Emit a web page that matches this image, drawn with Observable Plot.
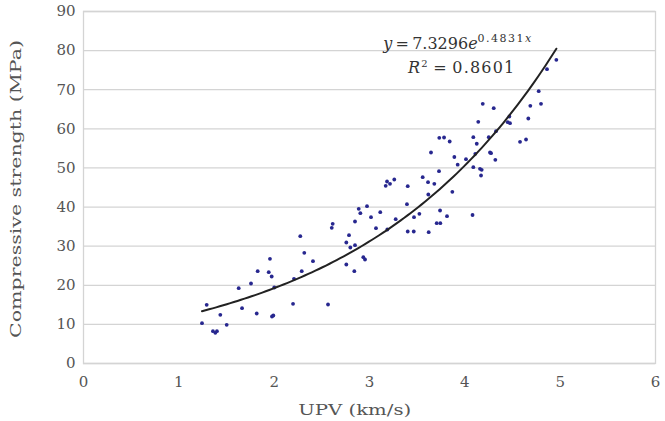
<!DOCTYPE html>
<html>
<head>
<meta charset="utf-8">
<script src="https://cdn.jsdelivr.net/npm/d3@7"></script>
<script src="https://cdn.jsdelivr.net/npm/@observablehq/plot@0.6"></script>
<style>
  html, body { margin: 0; padding: 0; background: #fff; }
  #chart { width: 665px; height: 421px; }
</style>
</head>
<body>
<div id="chart"></div>
<script>
// UPV (km/s)
const upv = [1.243,1.292,1.358,1.383,1.400,1.435,1.502,1.628,1.663,1.757,1.817,1.827,1.943,1.974,1.956,2.001,1.991,1.977,
  2.198,2.208,2.289,2.316,2.274,2.407,2.565,2.614,2.604,2.757,2.785,2.799,2.848,2.757,2.841,2.935,2.953,2.848,2.887,2.904,
  2.974,3.016,3.113,3.068,3.187,3.170,3.184,3.215,3.260,3.275,3.393,3.401,3.401,3.464,3.467,3.523,3.558,3.614,3.680,3.617,
  3.621,3.645,3.705,3.743,3.729,3.732,3.782,3.841,3.740,3.813,3.869,3.890,3.925,4.012,4.089,4.110,4.089,4.125,4.141,4.159,
  4.177,4.170,4.081,4.188,4.251,4.264,4.275,4.320,4.303,4.327,4.467,4.450,4.474,4.579,4.642,4.666,4.687,4.799,4.775,4.862,4.960];
// Compressive strength (MPa)
const strength = [10.3,15.0,8.26,7.85,8.26,12.45,9.9,19.25,14.14,20.45,12.78,23.6,23.34,22.24,26.77,19.43,12.27,12.02,
  15.26,21.66,23.6,28.3,32.55,26.16,15.09,35.72,34.7,30.94,32.8,29.66,30.25,25.31,23.6,27.18,26.59,36.31,39.56,38.43,
  40.22,37.41,38.69,34.6,34.26,45.44,46.54,45.95,47.05,36.9,40.73,45.33,33.75,33.75,37.41,38.28,47.63,46.36,45.95,43.21,
  33.57,53.95,35.87,35.87,49.17,57.71,57.79,56.76,39.12,37.66,43.9,52.8,50.83,52.24,57.86,53.62,50.19,56.18,61.8,49.78,
  49.53,48.07,37.97,66.4,57.86,53.95,53.77,52.08,65.28,59.4,63.15,61.7,61.44,56.69,57.27,62.64,65.89,66.4,69.62,75.25,77.65];

const xTicks = [0,1,2,3,4,5,6];
const yTicks = [0,10,20,30,40,50,60,70,80,90];

// Exponential fit shown on the chart: y = a * e^(b x)
const fitA = 7.3296;
const fitB = 0.4831;
const fitR2 = "0.8601";
const fitA_label = "7.3296";
const fitB_label = "0.4831";

const points = upv.map((x, i) => ({x, y: strength[i]}));
const xMin = d3.min(upv), xMax = d3.max(upv);
const trend = d3.range(0, 101).map(i => {
  const x = xMin + (xMax - xMin) * i / 100;
  return {x, y: fitA * Math.exp(fitB * x)};
});

const chart = Plot.plot({
  width: 665,
  height: 421,
  marginLeft: 83,
  marginRight: 10,
  marginTop: 11,
  marginBottom: 58,
  style: {fontFamily: "'DejaVu Serif', serif", fontSize: "15px", color: "#555", background: "#fff"},
  x: {domain: [0, 6]},
  y: {domain: [0, 90]},
  marks: [
    Plot.gridY(yTicks, {stroke: "#d4d4d4", strokeOpacity: 1, strokeWidth: 1.3}),
    Plot.frame({stroke: "#d4d4d4", strokeWidth: 1.3}),
    Plot.axisY(yTicks, {tickSize: 0, tickPadding: 8, label: null, fontSize: 15}),
    Plot.axisX(xTicks, {tickSize: 0, tickPadding: 13, label: null, fontSize: 15}),
    Plot.dot(points, {x: "x", y: "y", r: 1.9, fill: "#27278f", stroke: "none"}),
    Plot.line(trend, {x: "x", y: "y", stroke: "#222", strokeWidth: 2})
  ]
});

document.getElementById("chart").appendChild(chart);

const svg = d3.select(chart);
const sx = chart.scale("x"), sy = chart.scale("y");

// Axis titles
svg.append("text")
  .attr("transform", `translate(21,${(sy.apply(0) + sy.apply(90)) / 2 + 2}) rotate(-90)`)
  .attr("text-anchor", "middle")
  .attr("font-family", "'DejaVu Serif', serif")
  .attr("font-size", 15)
  .attr("fill", "#555")
  .attr("textLength", 298)
  .attr("lengthAdjust", "spacingAndGlyphs")
  .text("Compressive strength (MPa)");

svg.append("text")
  .attr("x", sx.apply(2.85))
  .attr("y", 415)
  .attr("text-anchor", "middle")
  .attr("font-family", "'DejaVu Serif', serif")
  .attr("font-size", 15)
  .attr("fill", "#555")
  .attr("textLength", 113)
  .attr("lengthAdjust", "spacingAndGlyphs")
  .text("UPV (km/s)");

// Fit equation
const eq = svg.append("text")
  .attr("x", sx.apply(3.15))
  .attr("y", sy.apply(80.2))
  .attr("text-anchor", "start")
  .attr("font-family", "'DejaVu Serif', serif")
  .attr("font-size", 16)
  .attr("fill", "#333");
eq.append("tspan").attr("font-style", "italic").text("y");
eq.append("tspan").text("\u2009=\u2009" + fitA_label);
eq.append("tspan").attr("font-style", "italic").text("e");
eq.append("tspan").attr("font-size", 11).attr("dy", -7).attr("letter-spacing", 1.5).text(fitB_label);
eq.append("tspan").attr("font-size", 11).attr("font-style", "italic").text("x");

const r2 = svg.append("text")
  .attr("x", sx.apply(3.41))
  .attr("y", sy.apply(74.2))
  .attr("text-anchor", "start")
  .attr("font-family", "'DejaVu Serif', serif")
  .attr("font-size", 16)
  .attr("letter-spacing", 1.2)
  .attr("fill", "#333");
r2.append("tspan").attr("font-style", "italic").text("R");
r2.append("tspan").attr("font-size", 10).attr("dy", -6).text("2");
r2.append("tspan").attr("dy", 6).text("\u2009=\u2009" + fitR2);
</script>
</body>
</html>
